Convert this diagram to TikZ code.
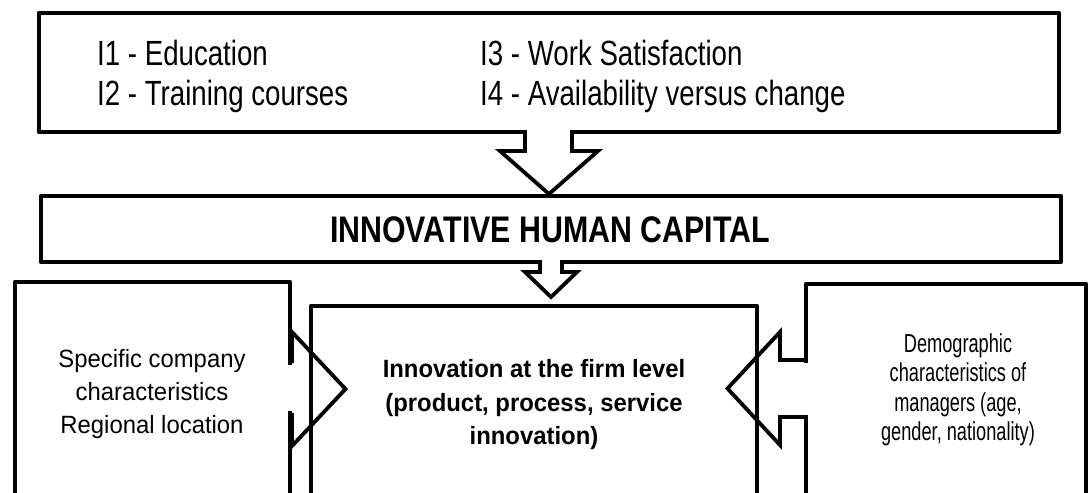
\documentclass[tikz,border=0pt]{standalone}
\usepackage{fontspec}
\setmainfont{Liberation Sans}
\newfontfamily\topfont[FakeStretch=0.79]{Liberation Sans}
\newfontfamily\headfont[FakeStretch=0.82]{Liberation Sans}
\newfontfamily\sidefont[FakeStretch=0.955]{Liberation Sans}
\newfontfamily\mgrfont[FakeStretch=0.70]{Liberation Sans}
\usetikzlibrary{calc}
\begin{document}
\begin{tikzpicture}[x=1pt,y=-1pt,
  box/.style={draw, line width=4.6pt, rectangle, inner sep=0pt, outer sep=0pt, line join=round},
  blockarrow/.style={draw, line width=3.8pt, line join=miter, miter limit=10},
  erase/.style={fill=white},
  toptext/.style={inner sep=0pt, font=\topfont\fontsize{35}{40}\selectfont},
  heading/.style={inner sep=0pt, font=\headfont\bfseries\fontsize{37}{40}\selectfont},
  sidetext/.style={inner sep=0pt, align=center, font=\sidefont\fontsize{25}{33}\selectfont},
  firmtext/.style={inner sep=0pt, align=center, font=\sidefont\bfseries\fontsize{25}{33.5}\selectfont},
  mgrtext/.style={inner sep=0pt, align=center, font=\mgrfont\fontsize{26}{29.5}\selectfont}]
\useasboundingbox (0,0) rectangle (1088,493);
\clip (0,0) rectangle (1088,493);

% boxes
\node[box, minimum width=1020pt, minimum height=119pt] (indicators) at (549,72.5) {};
\node[box, minimum width=1020pt, minimum height=66pt] (capital) at (551,229) {};
\node[box, minimum width=275pt, minimum height=248pt] (company) at (152.5,406) {};
\node[box, minimum width=446pt, minimum height=224pt] (firm) at (534,418) {};
\node[box, minimum width=280pt, minimum height=246pt] (managers) at (946,407) {};

% texts
\node[toptext, anchor=base west] (i1) at (97,65) {I1 - Education};
\node[toptext, anchor=base west] (i2) at (97,105) {I2 - Training courses};
\node[toptext, anchor=base west] (i3) at (480,65) {I3 - Work Satisfaction};
\node[toptext, anchor=base west] (i4) at (480,105) {I4 - Availability versus change};
\node[heading, anchor=base] (hcap) at (550,242) {INNOVATIVE HUMAN CAPITAL};
\node[sidetext] (ctext) at (152,394) {Specific company\\characteristics\\Regional location};
\node[firmtext] (ftext) at (534,405) {Innovation at the firm level\\(product, process, service\\innovation)};
\node[mgrtext] (mtext) at (958,390) {Demographic\\characteristics of\\managers (age,\\gender, nationality)};

% block arrow: indicators -> capital
\coordinate (a0) at (indicators.south);
\fill[erase] ($(a0)+(-22,-3)$) rectangle ($(a0)+(21,3)$);
\draw[blockarrow] ($(a0)+(-34,0)$) -- ($(a0)+(-24,0)$) -- ($(a0)+(-24,19)$)
  -- ($(a0)+(-49,19)$) -- ($(a0)+(0,62)$) -- ($(a0)+(49,19)$)
  -- ($(a0)+(23,19)$) -- ($(a0)+(23,0)$) -- ($(a0)+(33,0)$);

% block arrow: capital -> firm
\coordinate (b0) at (capital.south);
\fill[erase] ($(b0)+(-9,-3)$) rectangle ($(b0)+(9,3)$);
\draw[blockarrow] ($(b0)+(-21,0)$) -- ($(b0)+(-11,0)$) -- ($(b0)+(-11,10)$)
  -- ($(b0)+(-26,10)$) -- ($(b0)+(0,35)$) -- ($(b0)+(26,10)$)
  -- ($(b0)+(11,10)$) -- ($(b0)+(11,0)$) -- ($(b0)+(21,0)$);

% block arrow: company -> firm
\coordinate (l0) at ($(company.east)+(0,-17)$);
\fill[erase] ($(l0)+(-4,-24)$) rectangle ($(l0)+(5,22)$);
\draw[blockarrow] ($(l0)+(2,-26)$) -- ($(l0)+(2,-57)$) -- ($(l0)+(55.5,0)$)
  -- ($(l0)+(2,57)$) -- ($(l0)+(2,24)$);

% block arrow: managers -> firm
\coordinate (r0) at ($(managers.west)+(0,-18.5)$);
\fill[erase] ($(r0)+(-3,-26)$) rectangle ($(r0)+(3.5,26)$);
\draw[blockarrow] ($(r0)+(0,-38.5)$) -- ($(r0)+(0,-28.5)$) -- ($(r0)+(-26,-28.5)$)
  -- ($(r0)+(-26,-56.5)$) -- ($(r0)+(-78.5,0)$) -- ($(r0)+(-26,56.5)$)
  -- ($(r0)+(-26,28.5)$) -- ($(r0)+(0,28.5)$) -- ($(r0)+(0,38.5)$);
\end{tikzpicture}
\end{document}
